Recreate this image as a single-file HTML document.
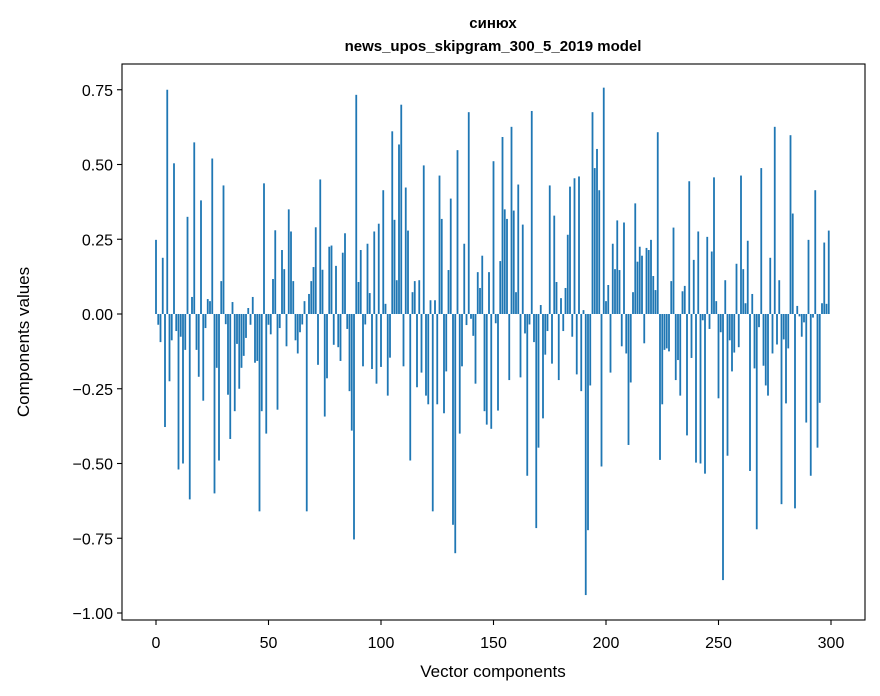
<!DOCTYPE html>
<html><head><meta charset="utf-8"><style>
html,body{margin:0;padding:0;background:#fff;width:880px;height:696px;overflow:hidden}
svg text{font-family:"Liberation Sans","DejaVu Sans",sans-serif;fill:#000}
</style></head><body>
<svg id="chart" width="880" height="696" viewBox="0 0 880 696" xmlns="http://www.w3.org/2000/svg">
<rect x="0" y="0" width="880" height="696" fill="#fff"/>
<text x="493" y="28" text-anchor="middle" font-size="15" font-weight="bold">синюх</text>
<text x="493" y="51" text-anchor="middle" font-size="15" font-weight="bold">news_upos_skipgram_300_5_2019 model</text>
<g id="bars"></g>
<g id="axes"></g>
<text x="493" y="677" text-anchor="middle" font-size="17">Vector components</text>
<text transform="translate(29,342) rotate(-90)" text-anchor="middle" font-size="17">Components values</text>
</svg>
<script>
const values = [
0.248,-0.036,-0.094,0.188,-0.378,0.75,-0.225,-0.088,0.504,-0.057,
-0.52,-0.076,-0.50,-0.12,0.325,-0.62,0.057,0.574,-0.12,-0.21,
0.38,-0.29,-0.047,0.05,0.043,0.52,-0.60,-0.18,-0.49,0.11,
0.43,-0.034,-0.27,-0.418,0.04,-0.325,-0.10,-0.25,-0.18,-0.14,
-0.08,0.02,-0.036,0.057,-0.163,-0.157,-0.66,-0.325,0.437,-0.40,
-0.036,-0.068,0.117,0.28,-0.32,-0.047,0.214,0.15,-0.108,0.35,
0.276,0.11,-0.088,-0.132,-0.061,-0.035,0.043,-0.66,0.067,0.11,
0.157,0.29,-0.17,0.45,0.148,-0.343,-0.215,0.225,0.229,-0.103,
0.161,-0.111,-0.157,0.205,0.27,-0.05,-0.258,-0.39,-0.754,0.733,
0.107,0.214,-0.175,-0.035,0.235,0.07,-0.184,0.276,-0.233,0.302,
-0.177,0.414,0.034,-0.273,-0.146,0.611,0.315,0.113,0.567,0.70,
-0.175,0.423,0.279,-0.49,0.073,0.11,-0.245,0.113,-0.196,0.497,
-0.273,-0.302,0.046,-0.66,0.046,-0.302,0.463,0.318,-0.332,-0.192,
0.147,0.386,-0.705,-0.80,0.548,-0.40,-0.175,0.235,-0.037,0.675,
-0.016,-0.073,-0.233,0.14,0.087,0.195,-0.325,-0.37,0.14,-0.384,
0.511,-0.031,-0.323,0.177,0.592,0.35,0.318,-0.221,0.626,0.346,
0.073,0.433,-0.212,0.299,-0.065,-0.541,-0.035,0.679,-0.094,-0.716,
-0.447,0.03,-0.349,-0.136,-0.057,0.43,-0.166,0.329,0.107,-0.221,
0.053,-0.057,0.087,0.265,0.426,-0.076,0.454,-0.202,0.46,-0.258,
0.013,-0.94,-0.723,-0.239,0.675,0.488,0.552,0.414,-0.51,0.757,
0.043,0.097,-0.196,0.235,0.15,0.313,0.147,-0.108,0.306,-0.132,
-0.438,-0.229,0.073,0.37,0.175,0.225,0.195,-0.098,0.221,0.214,
0.248,0.127,0.08,0.608,-0.488,-0.302,-0.12,-0.115,-0.125,0.11,
0.289,-0.221,-0.154,-0.273,0.076,0.094,-0.406,0.444,-0.147,0.181,
-0.497,0.276,-0.50,-0.021,-0.534,0.258,-0.05,0.209,0.457,0.043,
-0.282,-0.061,-0.89,0.113,-0.474,-0.088,-0.192,-0.129,0.168,-0.111,
0.463,0.15,0.036,0.245,-0.525,0.067,-0.182,-0.72,-0.044,0.488,
-0.173,-0.239,-0.273,0.188,-0.132,0.626,-0.102,0.113,-0.636,-0.085,
-0.299,-0.115,0.598,0.336,-0.65,0.027,-0.008,-0.076,-0.028,-0.363,
0.248,-0.541,-0.012,0.414,-0.447,-0.297,0.036,0.239,0.034,0.279
];
const xTicks = [0,50,100,150,200,250,300];
const yTicks = [0.75,0.50,0.25,0.00,-0.25,-0.50,-0.75,-1.00];
const yTickLabels = ["0.75","0.50","0.25","0.00","\u22120.25","\u22120.50","\u22120.75","\u22121.00"];

const NS = "http://www.w3.org/2000/svg";
const L = 122, R = 865, T = 64, B = 620;
function xScale(v){ return 156 + 2.25 * v; }
function yScale(v){ return 314 - 299 * v; }

const bars = document.getElementById('bars');
values.forEach(function(v, i){
  const r = document.createElementNS(NS, 'rect');
  const y0 = yScale(0), y1 = yScale(v);
  r.setAttribute('x', xScale(i) - 0.9);
  r.setAttribute('width', 1.8);
  r.setAttribute('y', Math.min(y0, y1));
  r.setAttribute('height', Math.max(Math.abs(y1 - y0), 0.3));
  r.setAttribute('fill', '#1f77b4');
  
  
  bars.appendChild(r);
});

const axes = document.getElementById('axes');
const frame = document.createElementNS(NS, 'rect');
frame.setAttribute('x', L); frame.setAttribute('y', T);
frame.setAttribute('width', R - L); frame.setAttribute('height', B - T);
frame.setAttribute('fill', 'none'); frame.setAttribute('stroke', '#000'); frame.setAttribute('stroke-width', '1.1');


axes.appendChild(frame);

xTicks.forEach(function(t){
  const x = xScale(t);
  const ln = document.createElementNS(NS, 'line');
  ln.setAttribute('x1', x); ln.setAttribute('x2', x);
  ln.setAttribute('y1', B); ln.setAttribute('y2', B + 5);
  ln.setAttribute('stroke', '#000'); ln.setAttribute('stroke-width', '1.1');
  
  
  axes.appendChild(ln);
  const tx = document.createElementNS(NS, 'text');
  tx.setAttribute('x', x); tx.setAttribute('y', 648);
  tx.setAttribute('text-anchor', 'middle'); tx.setAttribute('font-size', '16');
  tx.textContent = String(t);
  
  
  axes.appendChild(tx);
});

yTicks.forEach(function(t, i){
  const y = yScale(t);
  const ln = document.createElementNS(NS, 'line');
  ln.setAttribute('x1', L - 5); ln.setAttribute('x2', L);
  ln.setAttribute('y1', y); ln.setAttribute('y2', y);
  ln.setAttribute('stroke', '#000'); ln.setAttribute('stroke-width', '1.1');
  
  
  axes.appendChild(ln);
  const tx = document.createElementNS(NS, 'text');
  tx.setAttribute('x', L - 9); tx.setAttribute('y', y + 6);
  tx.setAttribute('text-anchor', 'end'); tx.setAttribute('font-size', '16');
  tx.textContent = yTickLabels[i];
  
  
  axes.appendChild(tx);
});
</script>
</body></html>
